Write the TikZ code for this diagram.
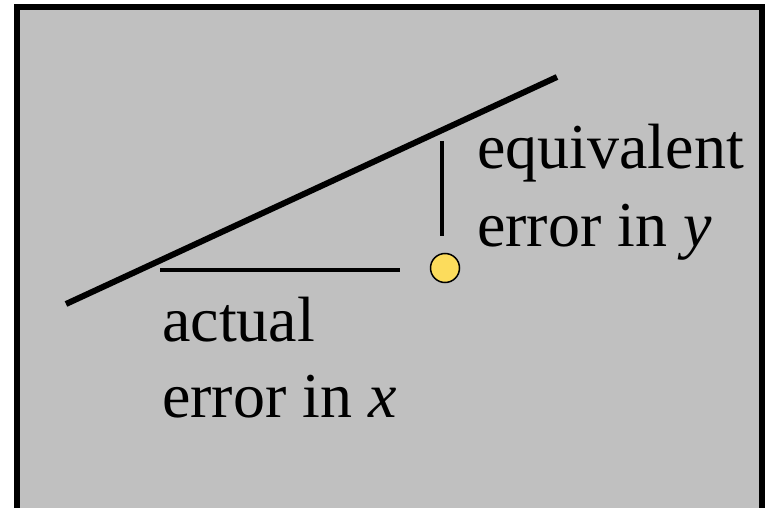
\documentclass[tikz,border=0pt]{standalone}
\usepackage{fontspec}
\setmainfont{Liberation Serif}
\usepackage{tikz}
\usetikzlibrary{positioning, calc}
\usepackage{xcolor}
\definecolor{panelgray}{RGB}{192,192,192}
\definecolor{dotyellow}{RGB}{252,220,92}

\tikzset{
  lbl/.style={inner sep=0pt, anchor=base west, font=\fontsize{64}{76}\selectfont},
  fitline/.style={line width=6pt},
  errline/.style={line width=3.5pt},
}

\begin{document}
\begin{tikzpicture}[x=1pt, y=-1pt]
  \useasboundingbox (0,0) rectangle (769,508);
  \draw[fill=panelgray, line width=6pt] (17,7) rectangle (762,511);
  % fitted line
  \coordinate (fitL) at (66,304);
  \coordinate (fitR) at (557,77);
  \draw[fitline] (fitL) -- (fitR);
  % data point and its errors
  \node[circle, draw, line width=1.5pt, fill=dotyellow, minimum size=29pt, inner sep=0pt] (pt) at (445,268) {};
  \coordinate (xerrL) at (160,270);
  \coordinate (xerrR) at (400,270);
  \draw[errline] (xerrL) -- (xerrR);
  \coordinate (yerrT) at (442,141);
  \coordinate (yerrB) at (442,236);
  \draw[errline] (yerrT) -- (yerrB);
  % labels
  \node[lbl] (eqv) at (477,169) {equivalent};
  \node[lbl] (eqerr) at ([yshift=-77pt]eqv.base west) {error in \textit{y}};
  \node[lbl] (act) at (162,341) {actual};
  \node[lbl] (acterr) at ([yshift=-76pt]act.base west) {error in \textit{x}};
\end{tikzpicture}
\end{document}
